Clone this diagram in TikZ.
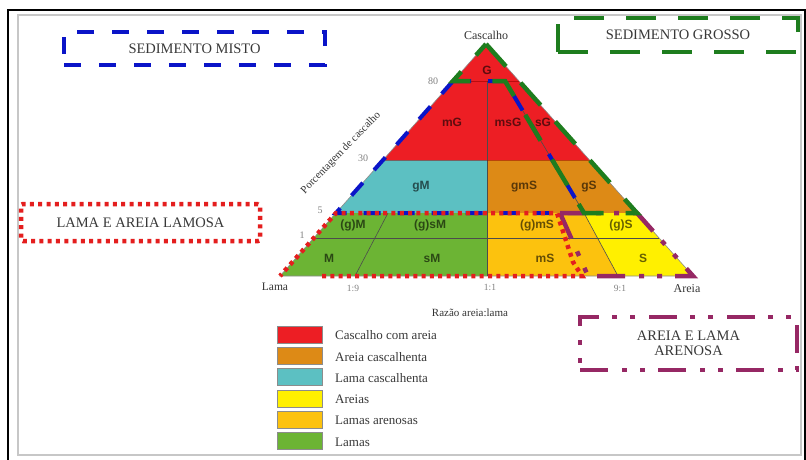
\documentclass[tikz,border=0pt]{standalone}
\usepackage{fontspec}
\setmainfont{Liberation Serif}
\newfontfamily\cellsans{Liberation Sans}
\definecolor{cred}{RGB}{237,30,36}
\definecolor{corange}{RGB}{221,138,22}
\definecolor{ccyan}{RGB}{92,192,194}
\definecolor{cyellow}{RGB}{255,240,0}
\definecolor{cgold}{RGB}{252,194,14}
\definecolor{cgreen}{RGB}{108,180,52}
\definecolor{mblue}{RGB}{10,20,200}
\definecolor{mgreen}{RGB}{30,125,30}
\definecolor{mred}{RGB}{228,30,30}
\definecolor{mpurple}{RGB}{150,40,100}
\begin{document}
\begin{tikzpicture}[x=1pt,y=-1pt,
  boxtxt/.style={font=\fontsize{14.5}{15.5}\selectfont, text=black!78, align=center},
  legtxt/.style={font=\fontsize{13}{15}\selectfont, text=black!78, anchor=west, inner sep=0pt},
  cell/.style={font=\cellsans\bfseries\fontsize{12}{14}\selectfont, text=black, text opacity=0.6, inner sep=0pt},
  tick/.style={font=\fontsize{9.5}{11}\selectfont, text=black!50, inner sep=0pt},
  axis/.style={font=\fontsize{12}{14}\selectfont, text=black!80, inner sep=0pt},
  swatch/.style={draw=black!45, line width=0.6pt, minimum width=45pt, minimum height=17pt, inner sep=0pt},
  divline/.style={draw=black!70, line width=0.6pt},
  blueline/.style={draw=mblue, line width=4pt, dash pattern=on 17pt off 17pt},
  greenline/.style={draw=mgreen, line width=4.5pt, dash pattern=on 30pt off 22pt},
  redline/.style={draw=mred, line width=4.5pt, dash pattern=on 4pt off 4.3pt},
  purpline/.style={draw=mpurple, line width=4.5pt, dash pattern=on 28pt off 14pt on 5pt off 13pt on 5pt off 13pt},
]
\useasboundingbox (0,0) rectangle (806,459);

% outer frame and inner panel
\draw[line width=2.5pt] (8,470) -- (8,10) -- (805,10) -- (805,470);
\draw[black!22, line width=1.2pt] (18,15) rectangle (801,455);

% triangle corner and division points
\coordinate (A)   at (486,44);
\coordinate (L80) at (453,81);
\coordinate (R80) at (519,81);
\coordinate (L30) at (383,160);
\coordinate (R30) at (589.5,160);
\coordinate (L5)  at (336,213);
\coordinate (R5)  at (637,213);
\coordinate (L1)  at (314,238);
\coordinate (R1)  at (659,238);
\coordinate (BL)  at (280,276);
\coordinate (BR)  at (693,276);
\coordinate (C80) at (487,81);
\coordinate (C30) at (487,160);
\coordinate (C5)  at (487,213);
\coordinate (CB)  at (487,276);
\coordinate (D80) at (505,81);
\coordinate (D5)  at (584,213);
\coordinate (N5)  at (388,213);
\coordinate (NB)  at (355,276);
\coordinate (SB)  at (618,276);

% coloured fields
\fill[cred]    (A) -- (L30) -- (R30) -- cycle;
\fill[ccyan]   (L30) -- (C30) -- (C5) -- (L5) -- cycle;
\fill[corange] (C30) -- (R30) -- (R5) -- (C5) -- cycle;
\fill[cgreen]  (L5) -- (C5) -- (CB) -- (BL) -- cycle;
\fill[cgold]   (C5) -- (D5) -- (SB) -- (CB) -- cycle;
\fill[cyellow] (D5) -- (R5) -- (BR) -- (SB) -- cycle;

% field boundaries
\draw[black!45, line width=0.6pt] (A) -- (BL) -- (BR) -- cycle;
\draw[divline] (C80) -- (CB);
\draw[divline] (L1) -- (R1);
\draw[divline] (N5) -- (NB);
\draw[divline] (D5) -- (SB);
\draw[divline] (D80) -- (D5);
\draw[red!60!black, line width=0.5pt, opacity=0.6] (L80) -- (R80);
\draw[red!60!black, line width=0.5pt, opacity=0.5] (L30) -- (R30);

% field codes
\node[cell] (tG)    at (487,70)  {G};
\node[cell] (tmG)   at (452,122) {mG};
\node[cell] (tmsG)  at (508,122) {msG};
\node[cell] (tsG)   at (543,122) {sG};
\node[cell] (tgM)   at (421,187) {gM};
\node[cell] (tgmS)  at (524,187) {gmS};
\node[cell] (tgS)   at (589,187) {gS};
\node[cell] (tgMt)  at (353,225) {(g)M};
\node[cell] (tgsMt) at (430,225) {(g)sM};
\node[cell] (tgmSt) at (537,225) {(g)mS};
\node[cell] (tgSt)  at (621,225) {(g)S};
\node[cell] (tM)    at (329,258) {M};
\node[cell] (tsM)   at (432,258) {sM};
\node[cell] (tmS)   at (545,258) {mS};
\node[cell] (tS)    at (643,258) {S};

% group outlines over the triangle
\coordinate (r0) at (322,276);
\coordinate (r1) at (557,213);
\coordinate (r2) at (573,262);
\coordinate (r3) at (582,276);
\coordinate (p1) at (560,213);
\coordinate (p2) at (588,276);
\draw[blueline] (L80) -- (L5) -- (D5) -- (D80) -- cycle;
\draw[purpline] (p1) -- (p2) -- (BR) -- (R5) -- cycle;
\draw[greenline] (A) -- (R5) -- (D5) -- (D80) -- (L80) -- cycle;
\draw[redline] (r0) -- (r3) -- (r2) -- (r1) -- (L5) -- (BL);

% axis texts
\node[axis] (apex)  at (486,35)  {Cascalho};
\node[axis, font=\fontsize{11.5}{13}\selectfont] (lama) at (275,287) {Lama};
\node[axis] (areia) at (687,289) {Areia};
\node[tick] (r19) at (353,288) {1:9};
\node[tick] (r11) at (490,287) {1:1};
\node[tick] (r91) at (620,288) {9:1};
\node[tick, font=\fontsize{10}{12}\selectfont] (g80) at (433,81)  {80};
\node[tick, font=\fontsize{10}{12}\selectfont] (g30) at (363,158) {30};
\node[tick, font=\fontsize{10}{12}\selectfont] (g5)  at (320,210) {5};
\node[tick, font=\fontsize{10}{12}\selectfont] (g1)  at (302,235) {1};
\node[axis, font=\fontsize{11}{13}\selectfont] (ratio) at (470,313) {Razão areia:lama};
\node[axis, font=\fontsize{10.8}{13}\selectfont, rotate=46] (pct) at (341,153) {Porcentagem de cascalho};

% group captions
\node[draw=mblue, line width=4pt, dash pattern=on 17pt off 18pt, minimum width=261pt, minimum height=33pt, boxtxt] (misto) at (194.5,48.5) {SEDIMENTO MISTO};
\node[draw=mgreen, line width=4.5pt, dash pattern=on 30pt off 22pt, minimum width=240pt, minimum height=34pt, boxtxt] (grosso) at (678,35) {SEDIMENTO GROSSO};
\node[draw=mred, line width=4.5pt, dash pattern=on 4pt off 4.3pt, minimum width=239pt, minimum height=37pt, rounded corners=2pt, boxtxt] (lamosa) at (140.5,222.5) {LAMA E AREIA LAMOSA};
\node[draw=mpurple, line width=4.5pt, dash pattern=on 28pt off 14pt on 5pt off 13pt on 5pt off 13pt, minimum width=217pt, minimum height=53pt, boxtxt, font=\fontsize{14.5}{15}\selectfont] (arenosa) at (688.5,343.5) {AREIA E LAMA\\ARENOSA};

% legend
\node[swatch, fill=cred]    (sw1) at (299.5,334.5) {};
\node[swatch, fill=corange] (sw2) at (299.5,355.8) {};
\node[swatch, fill=ccyan]   (sw3) at (299.5,377.1) {};
\node[swatch, fill=cyellow] (sw4) at (299.5,398.4) {};
\node[swatch, fill=cgold]   (sw5) at (299.5,419.7) {};
\node[swatch, fill=cgreen]  (sw6) at (299.5,441.0) {};
\node[legtxt] (lg1) at (335,335.5) {Cascalho com areia};
\node[legtxt] (lg2) at (335,356.8) {Areia cascalhenta};
\node[legtxt] (lg3) at (335,378.1) {Lama cascalhenta};
\node[legtxt] (lg4) at (335,399.4) {Areias};
\node[legtxt] (lg5) at (335,420.7) {Lamas arenosas};
\node[legtxt] (lg6) at (335,442.0) {Lamas};
\end{tikzpicture}
\end{document}
